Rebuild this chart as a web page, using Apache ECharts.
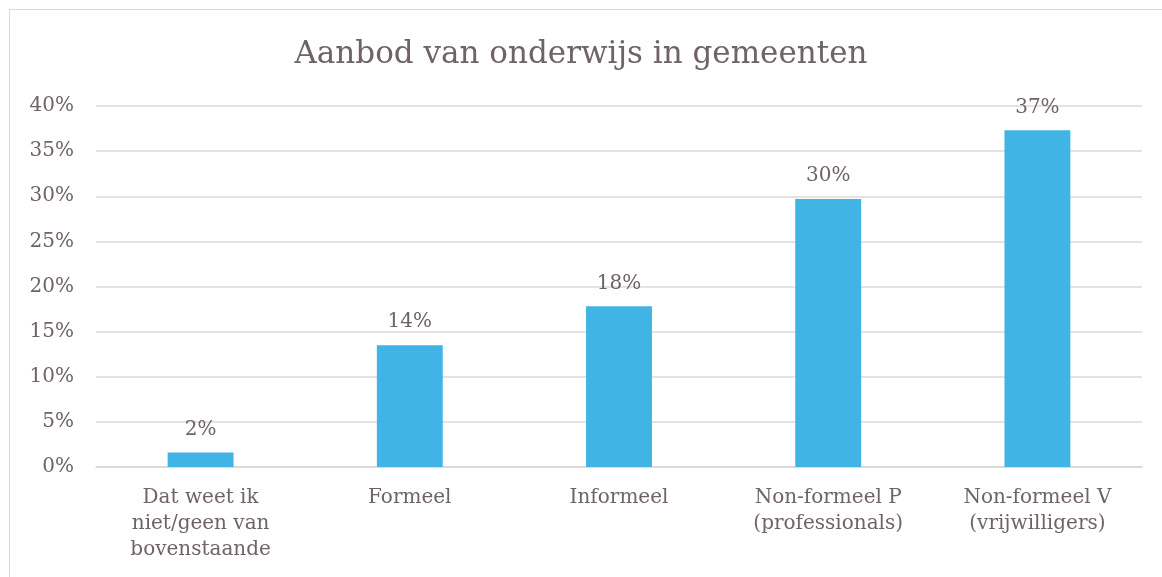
<!DOCTYPE html>
<html>
<head>
<meta charset="utf-8">
<script src="https://cdn.jsdelivr.net/npm/echarts@6/dist/echarts.min.js"></script>
<style>
    html, body { margin: 0; padding: 0; background: #fff; }
    #chart { width: 1162px; height: 577px; }
    #frame { position: absolute; left: 9px; top: 9px; width: 1170px; height: 600px; border: 1px solid #d9d9d9; pointer-events: none; }
</style>
</head>
<body>
<div id="chart"></div>
<div id="frame"></div>
<script>
var categories = ['Dat weet ik\nniet/geen van\nbovenstaande', 'Formeel', 'Informeel', 'Non-formeel P\n(professionals)', 'Non-formeel V\n(vrijwilligers)'];
var values = [1.6, 13.5, 17.8, 29.7, 37.3];
var yTicks = [0, 5, 10, 15, 20, 25, 30, 35, 40];

var textColor = '#6f6365';
var font = 'DejaVu Serif';

function chart() {
    var myChart = echarts.init(document.getElementById('chart'));
    var option = {
        animation: false,
        title: {
            text: 'Aanbod van onderwijs in gemeenten',
            left: 'center',
            top: 34,
            textStyle: {
                color: textColor,
                fontFamily: font,
                fontWeight: 'normal',
                fontSize: 31
            }
        },
        grid: {
            left: 96,
            right: 20,
            top: 106,
            bottom: 110
        },
        xAxis: {
            type: 'category',
            data: categories,
            axisTick: {show: false},
            axisLine: {lineStyle: {color: '#dcd8d9', width: 1.5}},
            axisLabel: {
                color: textColor,
                fontFamily: font,
                fontSize: 20,
                lineHeight: 26,
                margin: 18,
                interval: 0
            }
        },
        yAxis: {
            type: 'value',
            min: yTicks[0],
            max: yTicks[yTicks.length - 1],
            interval: 5,
            axisLine: {show: false},
            axisTick: {show: false},
            splitLine: {lineStyle: {color: '#dcd8d9', width: 1.5}},
            axisLabel: {
                color: textColor,
                fontFamily: font,
                fontSize: 20,
                margin: 22,
                formatter: '{value}%'
            }
        },
        series: [
            {
                type: 'bar',
                data: values,
                barWidth: '31.5%',
                itemStyle: {color: '#41b4e6'},
                label: {
                    show: true,
                    position: 'top',
                    distance: 13,
                    color: textColor,
                    fontFamily: font,
                    fontSize: 20,
                    formatter: function (p) { return Math.round(p.value) + '%'; }
                }
            }
        ]
    };
    myChart.setOption(option);
}
chart();
</script>
</body>
</html>
